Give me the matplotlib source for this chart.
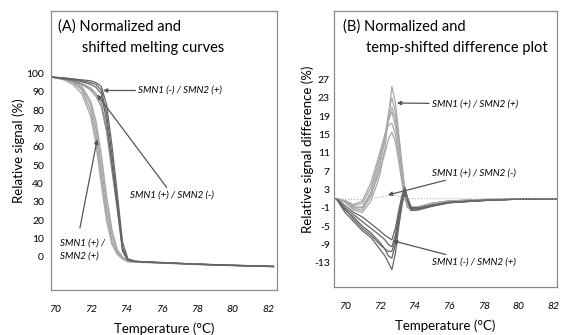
import matplotlib
matplotlib.use("Agg")
import matplotlib.pyplot as plt

plt.rcParams['font.family'] = ['Lato', 'DejaVu Sans']

# ---- panel A: normalized and shifted melting curves ----
temp_a = [69.8, 70.5, 71.0, 71.5, 72.0, 72.3, 72.6, 72.9, 73.2, 73.5, 73.8,
          74.1, 74.5, 75.0, 76.0, 78.0, 80.0, 82.3]

# SMN1 (+) / SMN2 (+)  (light, melts earliest)
melt_pp = [
    [98, 97, 95, 91, 80, 66, 45, 24, 9, 2, -1, -2.5, -2.7, -2.8, -3.2, -4, -4.6, -5.2],
    [98, 97, 95.5, 92, 83, 70, 50, 28, 12, 3, -0.5, -2.3, -2.6, -2.8, -3.2, -4, -4.6, -5.2],
    [98, 96.5, 94, 89, 77, 62, 40, 20, 7, 1.5, -1, -2.5, -2.8, -3, -3.3, -4.1, -4.7, -5.3],
    [98, 97.5, 96, 93, 85, 74, 56, 33, 15, 4, 0, -2.2, -2.5, -2.7, -3.1, -3.9, -4.5, -5.1],
]
# SMN1 (+) / SMN2 (-)
melt_pm = [
    [98, 97, 96, 94.5, 92, 89, 84, 70, 50, 29, 5, -1.5, -2.4, -2.7, -3.1, -3.9, -4.6, -5.2],
    [98, 97, 95.5, 94, 91, 87.5, 82, 68, 47, 26, 4, -1.8, -2.5, -2.8, -3.2, -4, -4.6, -5.2],
]
# SMN1 (-) / SMN2 (+)  (dark, melts latest)
melt_mp = [
    [98, 97.5, 97, 96, 95, 94, 91, 78, 56, 31, 5, -1.5, -2.4, -2.7, -3.1, -3.9, -4.6, -5.2],
    [98, 97.5, 97, 96.5, 96, 95, 93, 83, 61, 35, 8, -1, -2.2, -2.6, -3, -3.9, -4.5, -5.1],
    [98, 97, 96.5, 95.5, 94, 92.5, 89, 74, 51, 27, 3, -2, -2.5, -2.8, -3.2, -4, -4.6, -5.2],
]

# ---- panel B: temp-shifted difference plot ----
temp_b = [69.5, 70.0, 70.5, 71.0, 71.5, 72.0, 72.3, 72.5, 72.7, 72.9, 73.1,
          73.3, 73.45, 73.6, 73.8, 74.2, 75.0, 76.0, 78.0, 80.0, 82.2]

diff_pp = [
    [1, 0.5, -0.8, -0.8, 2.5, 9, 14, 18, 20, 17, 12, 6, 2, -0.5, -1, -0.8, 0, 0.5, 0.8, 0.9, 1],
    [1, 0.3, -1.2, -1.5, 1.5, 8, 14, 19.5, 23, 20, 14, 7, 2.5, -0.3, -1.2, -0.9, 0, 0.5, 0.8, 0.9, 1],
    [1, 0.6, -0.3, 0.5, 4.5, 11, 15, 17, 17.5, 15, 10, 5, 1.5, -0.8, -1.3, -1, -0.2, 0.4, 0.7, 0.9, 1],
    [1, 0.4, -1, -1, 2, 7, 11, 14, 15.5, 13.5, 9, 4, 1, -1, -1.4, -1, -0.2, 0.4, 0.7, 0.9, 1],
    [1, 0.2, -1.5, -2, 0.5, 6, 12, 19, 25.5, 22, 15, 8, 3, 0, -1, -0.8, 0, 0.5, 0.8, 0.9, 1],
    [1, 0.5, -0.5, 0, 3.5, 10, 15, 18.5, 21, 18.5, 13, 6.5, 2, -0.6, -1.1, -0.9, -0.1, 0.5, 0.8, 0.9, 1],
]
diff_mp = [
    [1, -1, -2.5, -4, -5.5, -7, -8, -9, -9.5, -7, -2.5, 1.5, 3, 1, -1, -1.2, -0.5, 0.2, 0.6, 0.9, 1],
    [1, -1.5, -3, -5, -6.5, -8.5, -10, -11.5, -12, -9, -4, 0.5, 2.5, 0.8, -1.3, -1.3, -0.6, 0.1, 0.6, 0.9, 1],
    [1, -0.5, -2, -3, -4.5, -6, -7, -7.5, -8, -5.5, -1.5, 2, 3.5, 1.2, -0.8, -1, -0.4, 0.2, 0.7, 0.9, 1],
    [1, -2, -4, -6, -7.5, -10, -11.5, -13, -14.5, -11, -5, 0, 2.2, 0.5, -1.6, -1.5, -0.7, 0.1, 0.6, 0.9, 1],
    [1, -1.2, -3.5, -5.5, -7, -9, -10, -10.5, -10.5, -8, -3, 1, 2.8, 0.9, -1.1, -1.2, -0.5, 0.2, 0.6, 0.9, 1],
]
diff_pm = [1, 0.9, 0.8, 0.8, 1, 1.3, 1.5, 1.7, 1.8, 1.7, 1.5, 1.3, 1.2, 1.1, 1, 1, 1, 1, 1, 1, 1]

xticks = [70, 72, 74, 76, 78, 80, 82]
yticks_a = [0, 10, 20, 30, 40, 50, 60, 70, 80, 90, 100]
yticks_b = [-13, -9, -5, -1, 3, 7, 11, 15, 19, 23, 27]

LIGHT = '#a8a8a8'
MID = '#8a8a8a'
DARK = '#666666'
ARROW = dict(arrowstyle='-|>', color='#555555', lw=0.9, mutation_scale=6,
             shrinkA=0, shrinkB=0)


def style_axes(ax):
    for s in ax.spines.values():
        s.set_color('#8c8c8c')
        s.set_linewidth(0.9)
    ax.tick_params(length=0)
    ax.set_xticks(xticks)
    ax.set_xticklabels([str(t) for t in xticks], fontstyle='italic', fontsize=7.5)
    ax.tick_params(axis='x', pad=11)
    ax.set_xlabel('Temperature (\u00b0C)', fontsize=9.5, labelpad=6)


fig = plt.figure(figsize=(5.61, 3.35), dpi=100)
ax1 = fig.add_axes([51 / 561, 1 - 290 / 335, 226 / 561, 279 / 335])
ax2 = fig.add_axes([334 / 561, 1 - 287 / 335, 223 / 561, 276 / 335])

# panel A
for c in melt_pp:
    ax1.plot(temp_a, c, color=LIGHT, lw=1.0)
for c in melt_pm:
    ax1.plot(temp_a, c, color=MID, lw=0.8)
for c in melt_mp:
    ax1.plot(temp_a, c, color=DARK, lw=0.9)
ax1.set_xlim(69.77, 82.5)
ax1.set_ylim(-18, 134)
style_axes(ax1)
ax1.set_yticks(yticks_a)
ax1.set_yticklabels([str(t) for t in yticks_a], fontsize=7.5)
ax1.tick_params(axis='y', pad=5)
ax1.set_ylabel('Relative signal (%)', fontsize=9.5, labelpad=1)
ax1.text(0.031, 0.943, '(A) Normalized and', transform=ax1.transAxes,
         fontsize=10.5, va='center', ha='left')
ax1.text(0.137, 0.867, 'shifted melting curves', transform=ax1.transAxes,
         fontsize=10.5, va='center', ha='left')
ax1.annotate('SMN1 (-) / SMN2 (+)', xy=(72.7, 90.7), xytext=(74.68, 90.7),
             fontsize=7, fontstyle='italic', va='center', arrowprops=ARROW)
ax1.annotate('SMN1 (+) / SMN2 (-)', xy=(72.37, 88.5), xytext=(74.23, 33.9),
             fontsize=7, fontstyle='italic', va='center', arrowprops=ARROW)
ax1.annotate('', xy=(72.37, 64), xytext=(71.4, 15.8), arrowprops=ARROW)
ax1.text(70.28, 4.1, 'SMN1 (+) /\nSMN2 (+)', fontsize=7, fontstyle='italic',
         va='center', ha='left', linespacing=1.6)

# panel B
for c in diff_pp:
    ax2.plot(temp_b, c, color=LIGHT, lw=0.9)
for c in diff_mp:
    ax2.plot(temp_b, c, color=DARK, lw=0.9)
ax2.plot(temp_b, diff_pm, color='#b0b0b0', lw=0.8, ls=':')
ax2.set_xlim(69.37, 82.2)
ax2.set_ylim(-18.3, 42)
style_axes(ax2)
ax2.set_yticks(yticks_b)
ax2.set_yticklabels([str(t) for t in yticks_b], fontsize=7.5)
ax2.tick_params(axis='y', pad=3)
ax2.set_ylabel('Relative signal difference (%)', fontsize=9.5, labelpad=0)
ax2.text(0.04, 0.942, '(B) Normalized and', transform=ax2.transAxes,
         fontsize=10.5, va='center', ha='left')
ax2.text(0.143, 0.866, 'temp-shifted difference plot', transform=ax2.transAxes,
         fontsize=10.5, va='center', ha='left')
ax2.annotate('SMN1 (+) / SMN2 (+)', xy=(72.99, 21.9), xytext=(75.0, 21.7),
             fontsize=7, fontstyle='italic', va='center', arrowprops=ARROW)
ax2.annotate('SMN1 (+) / SMN2 (-)', xy=(72.47, 1.8), xytext=(75.0, 6.6),
             fontsize=7, fontstyle='italic', va='center', arrowprops=ARROW)
ax2.annotate('SMN1 (-) / SMN2 (+)', xy=(72.76, -8.2), xytext=(75.0, -12.8),
             fontsize=7, fontstyle='italic', va='center', arrowprops=ARROW)

fig.savefig('out.png', dpi=100)
